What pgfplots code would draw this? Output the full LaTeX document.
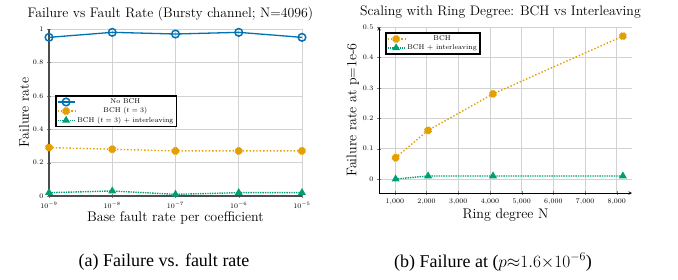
\documentclass[border=0pt]{standalone}
\usepackage{fontspec}
\usepackage{pgfplots}
\pgfplotsset{compat=1.18}
\newfontfamily\capfont{Liberation Serif}
\definecolor{cblue}{RGB}{0,114,178}
\definecolor{corange}{RGB}{230,159,0}
\definecolor{cgreen}{RGB}{0,158,115}
\begin{document}
\begin{tikzpicture}
\path[use as bounding box] (0pt,0pt) rectangle (678pt,-279pt);
\pgfplotsset{
  every axis/.append style={
    scale only axis,
    grid=major,
    grid style={gray!35, line width=0.6pt},
    tick label style={font=\fontsize{6.6}{7.5}\selectfont},
    label style={font=\fontsize{14}{16}\selectfont},
    title style={font=\fontsize{13.8}{15}\selectfont, yshift=-1pt},
    legend style={font=\fontsize{7}{8}\selectfont, draw=black, line width=1.6pt, inner sep=1pt, row sep=-1.5pt},
    legend cell align=center,
  }
}
\begin{axis}[
  at={(49pt,-29pt)}, anchor=north west,
  width=253pt, height=167pt,
  xmode=log, xmin=1e-9, xmax=1e-5,
  ymin=0, ymax=1,
  ytick={0,0.2,0.4,0.6,0.8,1},
  axis lines=left,
  axis line style={-, line width=1.1pt, black!70},
  title={Failure vs Fault Rate (Bursty channel; N=4096)},
  title style={at={(0.48,1)}},
  xlabel={Base fault rate per coefficient},
  ylabel={Failure rate},
  ylabel style={yshift=-3pt},
  xlabel style={yshift=3pt},
  legend style={at={(0.024,0.605)}, anchor=north west},
]
\addplot[cblue, line width=1.3pt, mark=o, mark size=3.8pt, mark options={solid, line width=1.5pt}]
  coordinates {(1e-9,0.95) (1e-8,0.98) (1e-7,0.97) (1e-6,0.98) (1e-5,0.95)};
\addlegendentry{No BCH}
\addplot[corange, line width=1.4pt, dotted, mark=x, mark size=3.6pt, mark options={solid, line width=4.2pt}]
  coordinates {(1e-9,0.29) (1e-8,0.28) (1e-7,0.27) (1e-6,0.27) (1e-5,0.27)};
\addlegendentry{BCH ($t=3$)}
\addplot[cgreen, line width=1.4pt, densely dotted, mark=triangle*, mark size=3.2pt, mark options={solid}]
  coordinates {(1e-9,0.02) (1e-8,0.03) (1e-7,0.01) (1e-6,0.02) (1e-5,0.02)};
\addlegendentry{BCH ($t=3$) + interleaving}
\end{axis}
\begin{axis}[
  at={(379pt,-27pt)}, anchor=north west,
  width=253pt, height=166pt,
  xmin=500, xmax=8480,
  ymin=-0.046, ymax=0.5,
  xtick={1000,2000,3000,4000,5000,6000,7000,8000},
  ytick={0,0.1,0.2,0.3,0.4,0.5},
  axis lines=left,
  axis line style={line width=0.6pt},
  title={Scaling with Ring Degree: BCH vs Interleaving},
  title style={at={(0.48,1)}},
  xlabel={Ring degree N},
  ylabel={Failure rate at p=1e-6},
  ylabel style={yshift=-3pt},
  xlabel style={yshift=3pt},
  legend style={at={(0.024,0.97)}, anchor=north west},
]
\addplot[corange, line width=1.4pt, dotted, mark=x, mark size=3.6pt, mark options={solid, line width=4.2pt}]
  coordinates {(1024,0.07) (2048,0.16) (4096,0.28) (8192,0.47)};
\addlegendentry{BCH}
\addplot[cgreen, line width=1.4pt, densely dotted, mark=triangle*, mark size=3.2pt, mark options={solid}]
  coordinates {(1024,0.0) (2048,0.01) (4096,0.01) (8192,0.01)};
\addlegendentry{BCH + interleaving}
\end{axis}
\node[font=\capfont\fontsize{18}{20}\selectfont] at (164pt,-262pt) {(a) Failure vs. fault rate};
\node[font=\capfont\fontsize{18}{20}\selectfont] at (493pt,-262pt) {(b) Failure at ($p{\approx}1.6{\times}10^{-6}$)};
\end{tikzpicture}
\end{document}
